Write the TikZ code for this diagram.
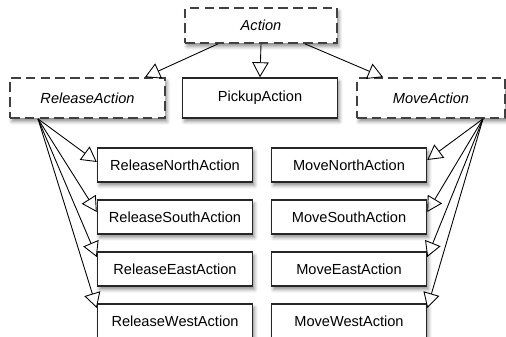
\documentclass[tikz,border=0pt]{standalone}
\usepackage{fontspec}
\setmainfont{Liberation Sans}
\usetikzlibrary{arrows.meta,shadows.blur}

\tikzset{
    classe/.style={draw=black!85, line width=0.85pt, fill=white, minimum width=3.1cm, minimum height=0.68cm,
        inner sep=0pt, font=\fontsize{8.3}{10}\selectfont,
        blur shadow={shadow blur steps=6, shadow xshift=0.04cm, shadow yshift=-0.07cm, shadow blur radius=0.07cm, shadow opacity=45}},
    astratta/.style={classe, draw=black!75, line width=1pt, dash pattern=on 5.4pt off 3pt, font=\fontsize{8.3}{10}\selectfont\itshape},
    eredita/.style={draw, line width=0.5pt, -{Triangle[open, length=0.3cm, width=0.33cm]}}
}

\begin{document}
\begin{tikzpicture}[x=0.02cm, y=-0.02cm]

    % Area del disegno
    \useasboundingbox (0, 0) rectangle (506, 337);
    \clip (0, 0) rectangle (506, 337);

    % Classe radice
    \node[astratta, minimum width=3.04cm, minimum height=0.7cm] (action) at (261, 25.5) {Action};

    % Secondo livello
    \node[astratta, minimum height=0.8cm] (release) at (87.5, 98) {ReleaseAction};
    \node[classe, minimum height=0.8cm] (pickup) at (260, 98) {PickupAction};
    \node[astratta, minimum width=2.96cm, minimum height=0.8cm] (move) at (431, 98) {MoveAction};

    % Sottoclassi di ReleaseAction
    \node[classe] (relnorth) at (175, 165) {ReleaseNorthAction};
    \node[classe] (relsouth) at (175, 217) {ReleaseSouthAction};
    \node[classe] (releast) at (175, 269) {ReleaseEastAction};
    \node[classe] (relwest) at (175, 321) {ReleaseWestAction};

    % Sottoclassi di MoveAction
    \node[classe] (movnorth) at (349, 165) {MoveNorthAction};
    \node[classe] (movsouth) at (349, 217) {MoveSouthAction};
    \node[classe] (moveast) at (349, 269) {MoveEastAction};
    \node[classe] (movwest) at (349, 321) {MoveWestAction};

    % Ereditarieta dalla radice
    \draw[eredita] ([xshift=-0.86cm]action.south) -- ([xshift=1.15cm]release.north);
    \draw[eredita] (action.south) -- (pickup.north);
    \draw[eredita] ([xshift=0.88cm]action.south) -- ([xshift=-0.96cm]move.north);

    % Ereditarieta da ReleaseAction
    \draw[eredita] ([xshift=-0.99cm]release.south) -- ([yshift=0.06cm]relnorth.west);
    \draw[eredita] ([xshift=-0.99cm]release.south) -- ([yshift=0.1cm]relsouth.west);
    \draw[eredita] ([xshift=-0.99cm]release.south) -- ([yshift=0.24cm]releast.west);
    \draw[eredita] ([xshift=-0.99cm]release.south) -- ([yshift=0.26cm]relwest.west);

    % Ereditarieta da MoveAction
    \draw[eredita] ([xshift=1.04cm]move.south) -- ([yshift=0.1cm]movnorth.east);
    \draw[eredita] ([xshift=1.04cm]move.south) -- ([yshift=0.1cm]movsouth.east);
    \draw[eredita] ([xshift=1.04cm]move.south) -- ([yshift=0.24cm]moveast.east);
    \draw[eredita] ([xshift=1.04cm]move.south) -- ([yshift=0.26cm]movwest.east);

\end{tikzpicture}
\end{document}
